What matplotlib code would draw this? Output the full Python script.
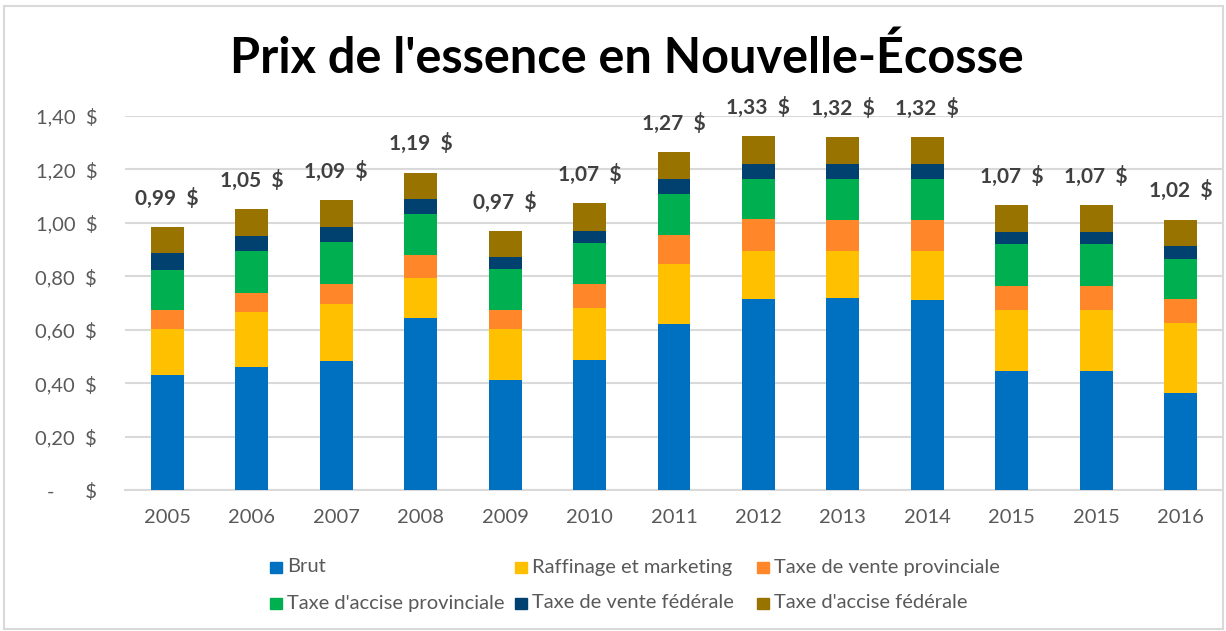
import matplotlib
matplotlib.use("Agg")
import matplotlib.pyplot as plt
import numpy as np
from matplotlib.patches import Rectangle

plt.rcParams['font.family'] = ['Lato', 'DejaVu Sans']

years = ["2005", "2006", "2007", "2008", "2009", "2010", "2011", "2012", "2013", "2014", "2015", "2015", "2016"]
brut = [0.432, 0.460, 0.482, 0.642, 0.412, 0.486, 0.623, 0.714, 0.718, 0.710, 0.446, 0.446, 0.363]
raffinage = [0.171, 0.205, 0.213, 0.152, 0.191, 0.194, 0.222, 0.179, 0.175, 0.183, 0.227, 0.227, 0.264]
vente_prov = [0.070, 0.073, 0.076, 0.085, 0.070, 0.091, 0.109, 0.120, 0.116, 0.116, 0.091, 0.091, 0.087]
accise_prov = [0.152, 0.155, 0.156, 0.155, 0.156, 0.152, 0.154, 0.152, 0.156, 0.156, 0.157, 0.157, 0.152]
vente_fed = [0.061, 0.058, 0.057, 0.054, 0.042, 0.046, 0.057, 0.057, 0.057, 0.057, 0.045, 0.045, 0.046]
accise_fed = [0.098, 0.099, 0.100, 0.100, 0.098, 0.104, 0.099, 0.102, 0.099, 0.099, 0.099, 0.099, 0.100]
totaux = ["0,99  $", "1,05  $", "1,09  $", "1,19  $", "0,97  $", "1,07  $", "1,27  $", "1,33  $", "1,32  $", "1,32  $", "1,07  $", "1,07  $", "1,02  $"]

series = [
    ("Brut", brut, "#0070C0"),
    ("Raffinage et marketing", raffinage, "#FFC000"),
    ("Taxe de vente provinciale", vente_prov, "#FF8629"),
    ("Taxe d'accise provinciale", accise_prov, "#00B050"),
    ("Taxe de vente fédérale", vente_fed, "#00416F"),
    ("Taxe d'accise fédérale", accise_fed, "#997300"),
]
yticks = [0, 0.2, 0.4, 0.6, 0.8, 1.0, 1.2, 1.4]
ytick_labels = ["-      $", "0,20  $", "0,40  $", "0,60  $", "0,80  $", "1,00  $", "1,20  $", "1,40  $"]

W, H = 1226, 631
fig = plt.figure(figsize=(W / 100, H / 100), dpi=100)
ax = fig.add_axes([125 / W, 1 - 490 / H, (1223 - 125) / W, (490 - 116) / H])

x = np.arange(len(years))
bottom = np.zeros(len(years))
for name, vals, col in series:
    ax.bar(x, vals, 0.39, bottom=bottom, color=col, label=name, zorder=3)
    bottom += np.array(vals)

for xi, top, lab in zip(x, bottom, totaux):
    ax.text(xi, top + 0.108, lab, ha='center', va='center', fontsize=15,
            fontweight='bold', color='#404040', clip_on=False)

ax.set_xlim(-0.5, len(years) - 0.5)
ax.set_ylim(0, 1.4)
ax.set_yticks(yticks)
ax.set_yticklabels(ytick_labels)
ax.set_xticks(x)
ax.set_xticklabels(years)
ax.tick_params(axis='both', length=0, labelsize=14.5, labelcolor='#595959')
ax.tick_params(axis='y', pad=20)
ax.tick_params(axis='x', pad=14)
ax.grid(axis='y', color='#D9D9D9', linewidth=1.5, zorder=0)
for s in ['top', 'right', 'left']:
    ax.spines[s].set_visible(False)
ax.spines['bottom'].set_color('#D9D9D9')
ax.spines['bottom'].set_linewidth(1.5)

fig.text(627 / W, 1 - 58 / H, "Prix de l'essence en Nouvelle-Écosse", ha='center', va='center',
         fontsize=35, fontweight='bold', color='black')

# legend
leg_pos = [(270, 567), (515, 567), (757, 567), (270, 603), (515, 603), (757, 603)]
for (name, vals, col), (px, py) in zip(series, leg_pos):
    fig.patches.append(Rectangle((px / W, 1 - (py + 6) / H), 12 / W, 11 / H,
                                 transform=fig.transFigure, color=col))
    fig.text((px + 17) / W, 1 - py / H, name, ha='left', va='center', fontsize=14.5,
             color='#595959')

# chart border
fig.patches.append(Rectangle((4 / W, 1 - 629 / H), 1219 / W, 623 / H, transform=fig.transFigure,
                             fill=False, edgecolor='#D9D9D9', linewidth=1.5))

fig.savefig("out.png", dpi=100)
